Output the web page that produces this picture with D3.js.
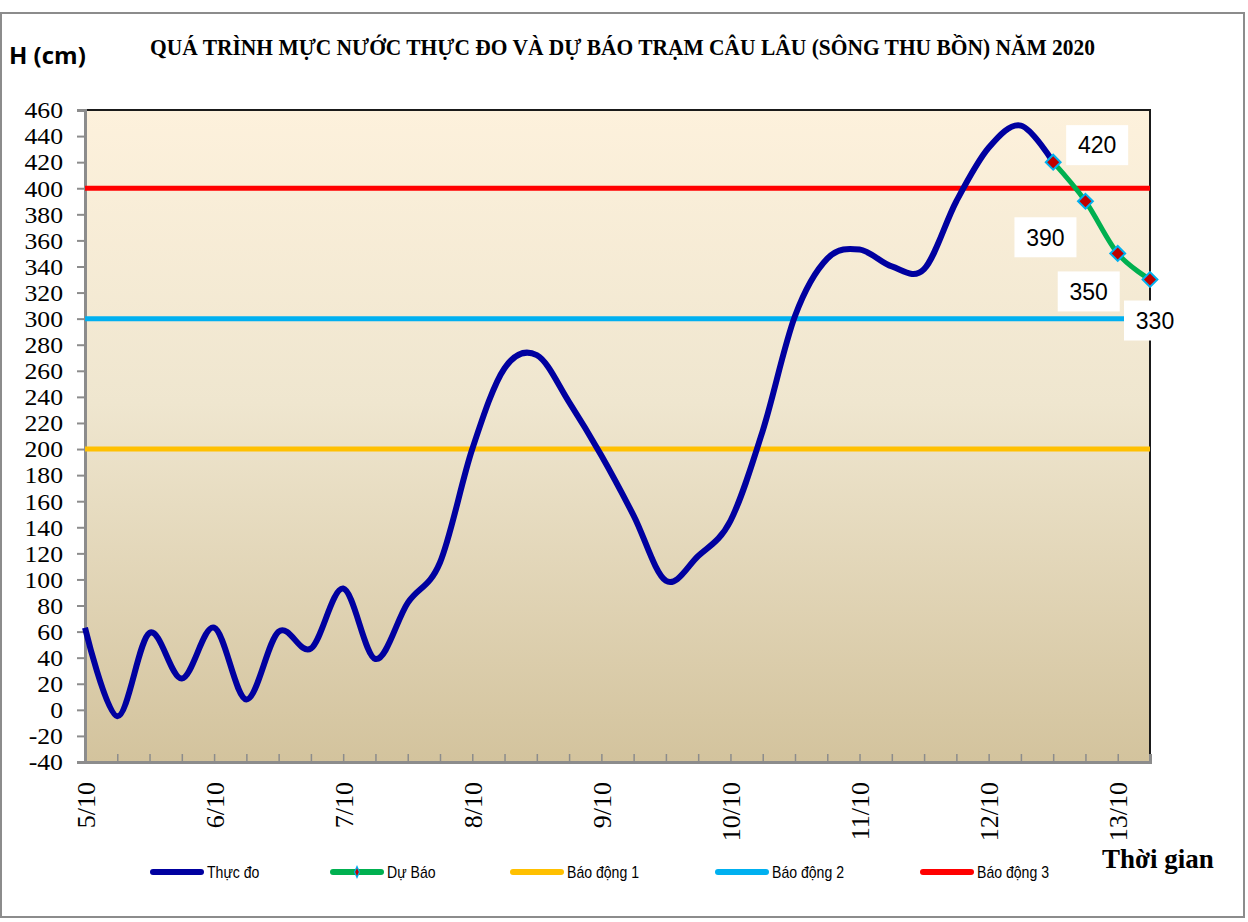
<!DOCTYPE html>
<html>
<head>
<meta charset="utf-8">
<script src="https://cdn.jsdelivr.net/npm/d3@7"></script>
<style>
  body { margin: 0; background: #fff; }
  svg { display: block; }
</style>
</head>
<body>
<svg id="chart" width="1248" height="922"></svg>
<script>
// ---- data ----
var dayLabels = ["5/10", "6/10", "7/10", "8/10", "9/10", "10/10", "11/10", "12/10", "13/10"];
// 6-hourly steps, a date label every 4th step
var categories = d3.range(34).map(function (i) {
    return (i % 4 === 0) ? dayLabels[i / 4] : "";
});
var observed = [63, -5, 59, 24, 63, 8, 60, 47, 93, 39, 82, 113,
    200, 262, 272, 236, 195, 149, 99, 118, 145, 214,
    302, 346, 353, 340, 338, 390, 431, 448, 420];
var forecastStart = 30;
var forecast = [420, 390, 350, 330];
var alarms = [
    {name: "Báo động 1", value: 200, color: "#ffc000"},
    {name: "Báo động 2", value: 300, color: "#00b0f0"},
    {name: "Báo động 3", value: 400, color: "#ff0000"}
];
var yTicks = d3.range(-40, 461, 20);

var svg = d3.select('#chart');
var pLeft = 85, pRight = 1150, pTop = 110, pBottom = 762;
var serif = '"Liberation Serif", "Times New Roman", serif';
var sans = '"Liberation Sans", Arial, sans-serif';

var x = d3.scaleLinear().domain([0, categories.length - 1]).range([pLeft, pRight]);
var y = d3.scaleLinear().domain([-40, 460]).range([pBottom, pTop]);

// outer frame
svg.append('rect')
    .attr('x', 1).attr('y', 13).attr('width', 1243).attr('height', 904)
    .attr('fill', '#fff').attr('stroke', '#8c8c8c').attr('stroke-width', 2);

// plot background gradient
var grad = svg.append('defs').append('linearGradient')
    .attr('id', 'bg').attr('x1', 0).attr('y1', 0).attr('x2', 0).attr('y2', 1);
grad.append('stop').attr('offset', '0%').attr('stop-color', '#fdf1dc');
grad.append('stop').attr('offset', '45%').attr('stop-color', '#efe6cf');
grad.append('stop').attr('offset', '100%').attr('stop-color', '#d3c39d');

svg.append('rect')
    .attr('x', pLeft).attr('y', pTop)
    .attr('width', pRight - pLeft).attr('height', pBottom - pTop)
    .attr('fill', 'url(#bg)');

// top / right border of plot
svg.append('path')
    .attr('d', 'M' + pLeft + ',' + pTop + 'H' + pRight + 'V' + pBottom)
    .attr('fill', 'none').attr('stroke', '#1a1a1a').attr('stroke-width', 2);

// y axis
var yAxis = svg.append('g')
    .attr('transform', 'translate(' + pLeft + ',0)')
    .call(d3.axisLeft(y).tickValues(yTicks).tickSize(8).tickPadding(14)
        .tickFormat(function (d) { return String(d); }));
yAxis.attr('font-family', serif).attr('font-size', 23);
yAxis.select('.domain').attr('stroke', '#8c8c8c').attr('stroke-width', 3);
yAxis.selectAll('.tick line').attr('stroke', '#8c8c8c').attr('stroke-width', 2);
yAxis.selectAll('.tick text')
    .attr('fill', '#000')
    .attr('x', 0)
    .attr('transform', 'translate(-22,0) scale(1.12,1)')
    .attr('dy', '0.34em');

// x axis
var xAxis = svg.append('g')
    .attr('transform', 'translate(0,' + pBottom + ')')
    .call(d3.axisBottom(x)
        .tickValues(d3.range(categories.length))
        .tickSize(-8)
        .tickFormat(function (d) { return categories[d]; }));
xAxis.attr('font-family', serif).attr('font-size', 26);
xAxis.select('.domain').attr('stroke', '#8c8c8c').attr('stroke-width', 3);
xAxis.selectAll('.tick line').attr('stroke', '#8c8c8c').attr('stroke-width', 1.5);
xAxis.selectAll('.tick text')
    .attr('fill', '#000')
    .attr('transform', 'rotate(-90)')
    .attr('text-anchor', 'end')
    .attr('x', -20).attr('y', 0).attr('dy', '0.35em');

// alarm levels
svg.selectAll('.alarm').data(alarms).enter().append('line')
    .attr('class', 'alarm')
    .attr('x1', x(0)).attr('x2', x(categories.length - 1))
    .attr('y1', function (d) { return y(d.value); })
    .attr('y2', function (d) { return y(d.value); })
    .attr('stroke', function (d) { return d.color; })
    .attr('stroke-width', 5);

var line = d3.line()
    .x(function (d) { return x(d.i); })
    .y(function (d) { return y(d.v); })
    .curve(d3.curveCardinal.tension(0));

var obsPts = observed.map(function (v, i) { return {i: i, v: v}; });
var fcPts = forecast.map(function (v, i) { return {i: forecastStart + i, v: v}; });

svg.append('path').datum(obsPts)
    .attr('d', line)
    .attr('fill', 'none').attr('stroke', '#0000a0').attr('stroke-width', 6)
    .attr('stroke-linejoin', 'round');

svg.append('path').datum(fcPts)
    .attr('d', line)
    .attr('fill', 'none').attr('stroke', '#00b050').attr('stroke-width', 5)
    .attr('stroke-linejoin', 'round');

svg.selectAll('.mk').data(fcPts).enter().append('path')
    .attr('class', 'mk')
    .attr('transform', function (d) { return 'translate(' + x(d.i) + ',' + y(d.v) + ') rotate(45)'; })
    .attr('d', d3.symbol().type(d3.symbolSquare).size(110))
    .attr('fill', '#c00000').attr('stroke', '#00b0f0').attr('stroke-width', 2);

// data labels (offsets from each point)
var labelOffsets = [[44, -17], [-40, 36], [-29, 38], [5, 41]];
var lbl = svg.selectAll('.dl').data(fcPts).enter().append('g')
    .attr('class', 'dl')
    .attr('transform', function (d, i) {
        return 'translate(' + (x(d.i) + labelOffsets[i][0]) + ',' + (y(d.v) + labelOffsets[i][1]) + ')';
    });
lbl.append('rect')
    .attr('x', -31).attr('y', -20).attr('width', 62).attr('height', 40)
    .attr('fill', '#fff');
lbl.append('text')
    .attr('text-anchor', 'middle').attr('dy', '0.36em')
    .style('font-family', sans)
    .style('font-size', '23px')
    .text(function (d) { return d.v; });

// titles
svg.append('text')
    .attr('x', 150).attr('y', 55)
    .attr('textLength', 945).attr('lengthAdjust', 'spacingAndGlyphs')
    .style('font-family', serif)
    .style('font-weight', 'bold').style('font-size', '24px')
    .text('QUÁ TRÌNH MỰC NƯỚC THỰC ĐO VÀ DỰ BÁO TRẠM CÂU LÂU (SÔNG THU BỒN) NĂM  2020');

svg.append('text')
    .attr('x', 9).attr('y', 64)
    .style('font-family', '"Open Sans", "Liberation Sans", sans-serif')
    .style('font-weight', 'bold').style('font-size', '24px')
    .text('H (cm)');

svg.append('text')
    .attr('x', 1102).attr('y', 868)
    .style('font-family', serif)
    .style('font-weight', 'bold').style('font-size', '27px')
    .text('Thời gian');

// legend
var legendItems = [
    {name: "Thực đo", color: "#0000a0", x: 150, marker: false},
    {name: "Dự Báo", color: "#00b050", x: 330, marker: true},
    {name: alarms[0].name, color: alarms[0].color, x: 510, marker: false},
    {name: alarms[1].name, color: alarms[1].color, x: 715, marker: false},
    {name: alarms[2].name, color: alarms[2].color, x: 920, marker: false}
];
var lg = svg.selectAll('.lg').data(legendItems).enter().append('g')
    .attr('class', 'lg')
    .attr('transform', function (d) { return 'translate(' + d.x + ',872)'; });
lg.append('line')
    .attr('x1', 3).attr('x2', 51)
    .attr('stroke', function (d) { return d.color; })
    .attr('stroke-width', 6).attr('stroke-linecap', 'round');
lg.filter(function (d) { return d.marker; }).append('path')
    .attr('transform', 'translate(27,0) scale(0.45,1) rotate(45)')
    .attr('d', d3.symbol().type(d3.symbolSquare).size(60))
    .attr('fill', '#c00000').attr('stroke', '#00b0f0').attr('stroke-width', 2);
lg.append('text')
    .attr('transform', 'translate(57,0) scale(0.88,1)')
    .attr('dy', '0.36em')
    .style('font-family', sans)
    .style('font-size', '16px')
    .text(function (d) { return d.name; });
</script>
</body>
</html>
